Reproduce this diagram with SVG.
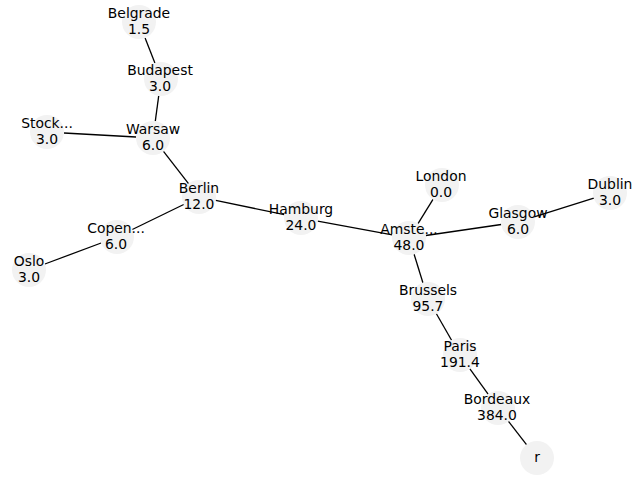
<svg xmlns="http://www.w3.org/2000/svg" width="640" height="480" viewBox="0 0 640 480">
<style>
.n circle{fill:#f2f2f2;stroke:none}
.n text{font-family:"DejaVu Sans",sans-serif;font-size:13.9px;fill:#000;text-anchor:middle}
#edges line{stroke:#000;stroke-width:1.3;fill:none}
</style>
<rect width="640" height="480" fill="#fff"/>
<g id="edges">
<line x1="145.1" y1="37.9" x2="154.9" y2="63.1"/>
<line x1="158.7" y1="95.8" x2="155.3" y2="121.2"/>
<line x1="64.0" y1="133.0" x2="136.0" y2="137.0"/>
<line x1="163.5" y1="151.4" x2="188.5" y2="183.6"/>
<line x1="183.7" y1="204.5" x2="132.3" y2="229.5"/>
<line x1="101.1" y1="243.0" x2="44.9" y2="264.0"/>
<line x1="215.7" y1="200.4" x2="284.3" y2="214.6"/>
<line x1="317.7" y1="221.1" x2="392.3" y2="234.9"/>
<line x1="418.0" y1="223.6" x2="433.0" y2="199.4"/>
<line x1="425.8" y1="235.5" x2="501.2" y2="224.5"/>
<line x1="534.2" y1="216.9" x2="593.8" y2="198.1"/>
<line x1="414.1" y1="254.2" x2="422.9" y2="282.8"/>
<line x1="436.4" y1="313.8" x2="451.6" y2="340.2"/>
<line x1="469.9" y1="368.8" x2="488.1" y2="394.2"/>
<line x1="508.5" y1="421.4" x2="526.5" y2="444.6"/>
</g>
<g id="belgrade" class="n"><circle cx="139" cy="22" r="17"/><text x="139" y="18">Belgrade</text><text x="139" y="34">1.5</text></g>
<g id="budapest" class="n"><circle cx="161" cy="79" r="17"/><text x="160" y="75">Budapest</text><text x="160" y="91">3.0</text></g>
<g id="stockholm" class="n"><circle cx="47" cy="132" r="17"/><text x="47" y="128">Stock...</text><text x="47" y="144">3.0</text></g>
<g id="warsaw" class="n"><circle cx="153" cy="138" r="17"/><text x="153" y="134">Warsaw</text><text x="153" y="150">6.0</text></g>
<g id="berlin" class="n"><circle cx="199" cy="197" r="17"/><text x="199" y="193">Berlin</text><text x="199" y="209">12.0</text></g>
<g id="copenhagen" class="n"><circle cx="117" cy="237" r="17"/><text x="116" y="233">Copen...</text><text x="116" y="249">6.0</text></g>
<g id="oslo" class="n"><circle cx="29" cy="270" r="17"/><text x="29" y="266">Oslo</text><text x="29" y="282">3.0</text></g>
<g id="hamburg" class="n"><circle cx="301" cy="218" r="17"/><text x="301" y="214">Hamburg</text><text x="301" y="230">24.0</text></g>
<g id="amsterdam" class="n"><circle cx="409" cy="238" r="17"/><text x="409" y="234">Amste...</text><text x="409" y="250">48.0</text></g>
<g id="london" class="n"><circle cx="442" cy="185" r="17"/><text x="441" y="181">London</text><text x="441" y="197">0.0</text></g>
<g id="glasgow" class="n"><circle cx="518" cy="222" r="17"/><text x="518" y="218">Glasgow</text><text x="518" y="234">6.0</text></g>
<g id="dublin" class="n"><circle cx="610" cy="193" r="17"/><text x="610" y="189">Dublin</text><text x="610" y="205">3.0</text></g>
<g id="brussels" class="n"><circle cx="428" cy="299" r="17"/><text x="428" y="295">Brussels</text><text x="428" y="311">95.7</text></g>
<g id="paris" class="n"><circle cx="460" cy="355" r="17"/><text x="460" y="351">Paris</text><text x="460" y="367">191.4</text></g>
<g id="bordeaux" class="n"><circle cx="498" cy="408" r="17"/><text x="497" y="404">Bordeaux</text><text x="497" y="420">384.0</text></g>
<g id="r" class="n"><circle cx="537" cy="458" r="17"/><text x="537" y="462">r</text></g>
</svg>
